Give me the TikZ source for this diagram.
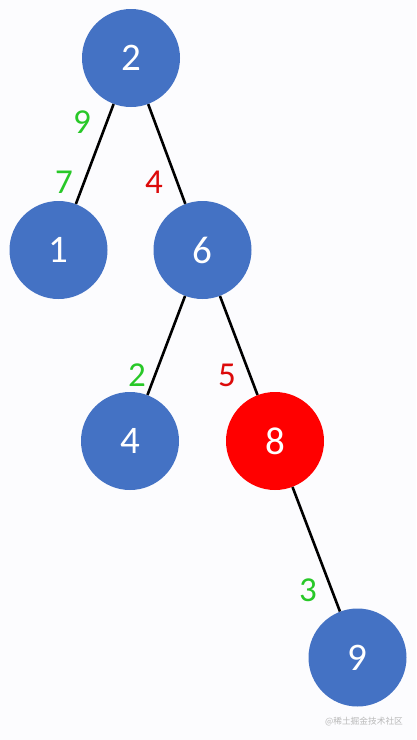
\documentclass[tikz,border=0pt]{standalone}
\usepackage{fontspec}
\setmainfont{Carlito}
\newfontfamily\cjk{Noto Sans CJK SC}
\definecolor{nodeblue}{RGB}{68,114,196}
\definecolor{nodered}{RGB}{255,0,0}
\definecolor{lblgreen}{RGB}{40,200,40}
\definecolor{lblred}{RGB}{220,10,10}
\definecolor{bgc}{RGB}{252,252,254}
\begin{document}
\begin{tikzpicture}[x=1pt,y=-1pt,
  tnode/.style={circle,fill=nodeblue,minimum size=98pt,inner sep=0pt,text=white,font=\fontsize{39}{39}\selectfont},
  rnode/.style={tnode,fill=nodered},
  edge/.style={draw=black,line width=2.6pt},
  glbl/.style={text=lblgreen,font=\fontsize{35}{35}\selectfont,inner sep=0pt},
  rlbl/.style={text=lblred,font=\fontsize{35}{35}\selectfont,inner sep=0pt}]
\fill[bgc] (0,0) rectangle (416,740);
\useasboundingbox (0,0) rectangle (416,740);
\node[tnode] (n2) at (131,58) {2};
\node[tnode] (n1) at (58.5,250) {1};
\node[tnode] (n6) at (202.5,250) {6};
\node[tnode] (n4) at (130,441) {4};
\node[rnode] (n8) at (275,441) {8};
\node[tnode] (n9) at (357.5,657.5) {9};
\draw[edge] (n2) -- (n1);
\draw[edge] (n2) -- (n6);
\draw[edge] (n6) -- (n4);
\draw[edge] (n6) -- (n8);
\draw[edge] (n8) -- (n9);
\node[glbl] (l9) at (82,122) {9};
\node[glbl] (l7) at (64,182) {7};
\node[rlbl] (l4) at (154,182) {4};
\node[glbl] (l2) at (137,375) {2};
\node[rlbl] (l5) at (227,375) {5};
\node[glbl] (l3) at (308,590) {3};
\node[text=gray!55,font=\cjk\fontsize{8.7}{8.7}\selectfont,inner sep=0pt] (wm) at (364,722) {@稀土掘金技术社区};
\end{tikzpicture}
\end{document}
